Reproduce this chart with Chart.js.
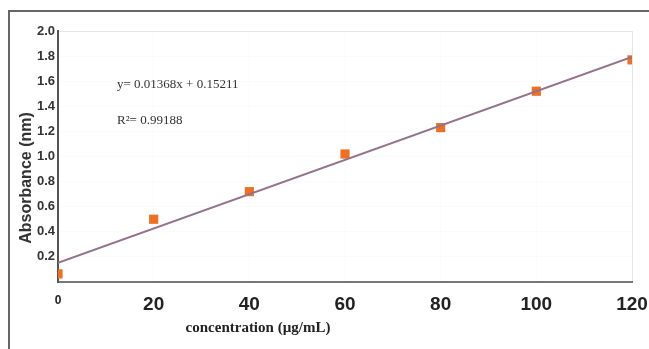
<!DOCTYPE html>
<html>
<head>
<meta charset="utf-8">
<script src="https://cdn.jsdelivr.net/npm/chart.js@4.4.1/dist/chart.umd.min.js"></script>
<style>
    body { margin: 0; background: #fff; }
    #wrap { position: relative; width: 649px; height: 349px; }
    #frame { position: absolute; left: 8px; top: 10px; right: 0; bottom: 0; border-left: 2px solid #666; border-top: 2px solid #666; }
    canvas { position: absolute; left: 0; top: 0; }
</style>
</head>
<body>
<div id="wrap">
    <div id="frame"></div>
    <canvas id="chart" width="649" height="349"></canvas>
</div>
<script>
// measured points
const concentrations = [0, 20, 40, 60, 80, 100, 120];
const absorbance = [0.065, 0.50, 0.72, 1.02, 1.23, 1.52, 1.77];

// fitted line ends, from y = 0.01368x + 0.15211
const fitX = [0, 120];
const fitY = [0.152, 1.794];

const xTicks = [0, 20, 40, 60, 80, 100, 120];
const yTicks = [0, 0.2, 0.4, 0.6, 0.8, 1.0, 1.2, 1.4, 1.6, 1.8, 2.0];

const equationText = 'y= 0.01368x + 0.15211';
const r2Text = 'R\u00B2= 0.99188';
const xTitle = 'concentration (\u00B5g/mL)';
const yTitle = 'Absorbance (nm)';

const pad = { left: 58, right: 17, top: 31, bottom: 67 };

const textPlugin = {
    id: 'texts',
    afterDraw(chart) {
        const ctx = chart.ctx;
        ctx.save();
        ctx.fillStyle = '#333';
        ctx.textBaseline = 'middle';
        ctx.textAlign = 'left';
        ctx.font = '13px "Liberation Serif", serif';
        ctx.fillText(equationText, 117, 85);
        ctx.fillText(r2Text, 117, 121);

        ctx.font = 'bold 15px "Liberation Serif", serif';
        ctx.textAlign = 'center';
        ctx.fillStyle = '#222';
        ctx.fillText(xTitle, 258, 328);

        ctx.translate(27, 178);
        ctx.rotate(-Math.PI / 2);
        ctx.font = 'bold 16px "Liberation Sans", Arial, sans-serif';
        ctx.fillStyle = '#333';
        ctx.fillText(yTitle, 0, 0);
        ctx.restore();
    }
};

new Chart(document.getElementById('chart'), {
    type: 'scatter',
    data: {
        datasets: [
            {
                type: 'line',
                data: fitX.map((x, i) => ({ x: x, y: fitY[i] })),
                borderColor: '#94728c',
                borderWidth: 2,
                pointRadius: 0,
                fill: false
            },
            {
                data: concentrations.map((x, i) => ({ x: x, y: absorbance[i] })),
                backgroundColor: '#f07022',
                borderColor: '#f07022',
                pointStyle: 'rect',
                pointRadius: 6.5,
                borderWidth: 0
            }
        ]
    },
    options: {
        responsive: false,
        animation: false,
        layout: { padding: { left: 0, right: pad.right, top: pad.top, bottom: 0 } },
        plugins: {
            legend: { display: false },
            tooltip: { enabled: false }
        },
        scales: {
            x: {
                type: 'linear',
                min: 0,
                max: 120,
                afterBuildTicks: (axis) => { axis.ticks = xTicks.map(v => ({ value: v })); },
                afterFit: (axis) => {
                    axis.height = pad.bottom;
                    axis.paddingLeft = 0;
                    axis.paddingRight = 0;
                },
                border: { color: '#777', width: 2 },
                grid: {
                    drawTicks: false,
                    color: (c) => c.tick && c.tick.value === 120 ? 'rgba(0,0,0,0.1)' : 'rgba(0,0,0,0.015)'
                },
                ticks: {
                    padding: 11,
                    color: '#222',
                    maxRotation: 0,
                    font: (c) => c.tick && c.tick.value === 0
                        ? { family: '"Liberation Sans", Arial, sans-serif', size: 12, weight: 'bold' }
                        : { family: '"Liberation Sans", Arial, sans-serif', size: 19, weight: 'bold' },
                    callback: (v) => String(v)
                }
            },
            y: {
                min: 0,
                max: 2,
                afterBuildTicks: (axis) => { axis.ticks = yTicks.map(v => ({ value: v })); },
                afterFit: (axis) => {
                    axis.width = pad.left;
                    axis.paddingTop = 0;
                    axis.paddingBottom = 0;
                },
                border: { color: '#555', width: 2 },
                grid: {
                    drawTicks: false,
                    color: (c) => c.tick && c.tick.value === 2 ? 'rgba(0,0,0,0.1)' : 'rgba(0,0,0,0.015)'
                },
                ticks: {
                    padding: 3,
                    color: '#333',
                    font: { family: '"Liberation Sans", Arial, sans-serif', size: 13, weight: 'bold' },
                    callback: (v) => v === 0 ? '' : v.toFixed(1)
                }
            }
        }
    },
    plugins: [textPlugin]
});
</script>
</body>
</html>
